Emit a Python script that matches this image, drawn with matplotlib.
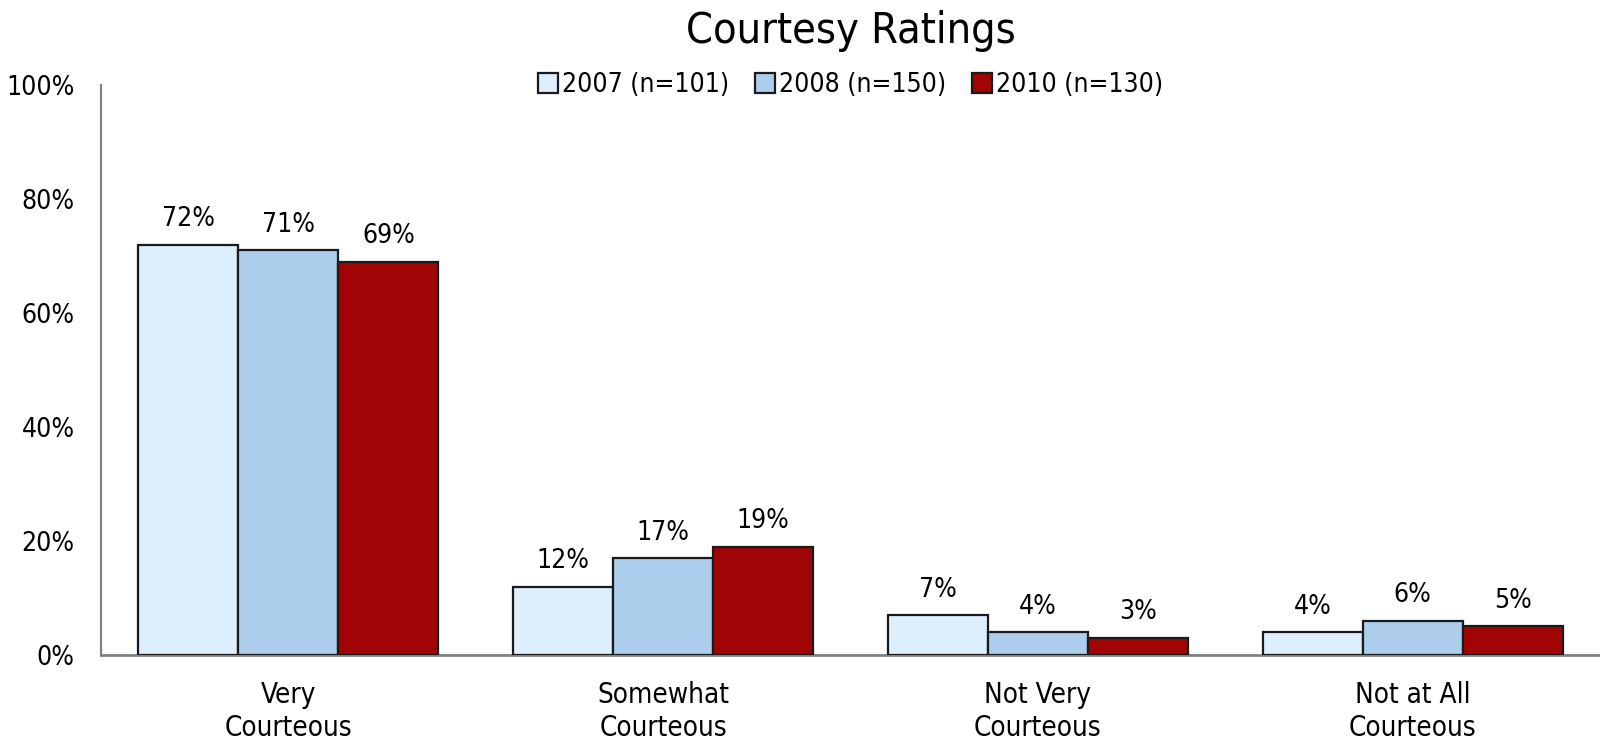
import numpy as np
import matplotlib.pyplot as plt
from matplotlib.ticker import FuncFormatter

categories = ['Very\nCourteous', 'Somewhat\nCourteous', 'Not Very\nCourteous', 'Not at All\nCourteous']
series = ['2007 (n=101)', '2008 (n=150)', '2010 (n=130)']
v2007 = [72, 12, 7, 4]
v2008 = [71, 17, 4, 6]
v2010 = [69, 19, 3, 5]
colors = ['#DDEEFD', '#ADCDEC', '#A00404']

plt.rcParams['font.family'] = ['DejaVu Sans']
plt.rcParams['font.stretch'] = 'condensed'

fig = plt.figure(figsize=(16, 7.46), dpi=100)
ax = fig.add_axes([101 / 1600, 0.122, 1 - 101 / 1600, 0.764])

x = np.arange(len(categories))
w = 0.8 / 3
for i, (vals, lab, c) in enumerate(zip([v2007, v2008, v2010], series, colors)):
    bars = ax.bar(x + (i - 1) * w, vals, w, color=c, edgecolor='#1a1a1a', linewidth=1.6, label=lab, zorder=3)
    for b, v in zip(bars, vals):
        ax.annotate('%d%%' % v, (b.get_x() + b.get_width() / 2, v), xytext=(0, 9),
                    textcoords='offset points', ha='center', va='bottom', fontsize=19)

ax.set_xlim(-0.5, 3.5)
ax.set_ylim(0, 100)
ax.set_yticks(np.arange(0, 101, 20))
ax.yaxis.set_major_formatter(FuncFormatter(lambda v, p: '%d%%' % v))
ax.set_xticks(x)
ax.set_xticklabels(categories, fontsize=20, linespacing=1.2)
ax.tick_params(axis='y', length=0, pad=19, labelsize=19)
ax.tick_params(axis='x', length=0, pad=19)
for s in ['top', 'right']:
    ax.spines[s].set_visible(False)
ax.spines['left'].set_color('#808080')
ax.spines['bottom'].set_color('#808080')
ax.spines['left'].set_linewidth(1.5)
ax.spines['bottom'].set_linewidth(2)

ax.set_title('Courtesy Ratings', fontsize=31, pad=30)
leg = ax.legend(loc='center', bbox_to_anchor=(0.5, 1.0), ncol=3, frameon=False, fontsize=19,
                handlelength=0.75, handleheight=0.75, handletextpad=0.15, columnspacing=1.0)

fig.savefig('out.png', dpi=100)
